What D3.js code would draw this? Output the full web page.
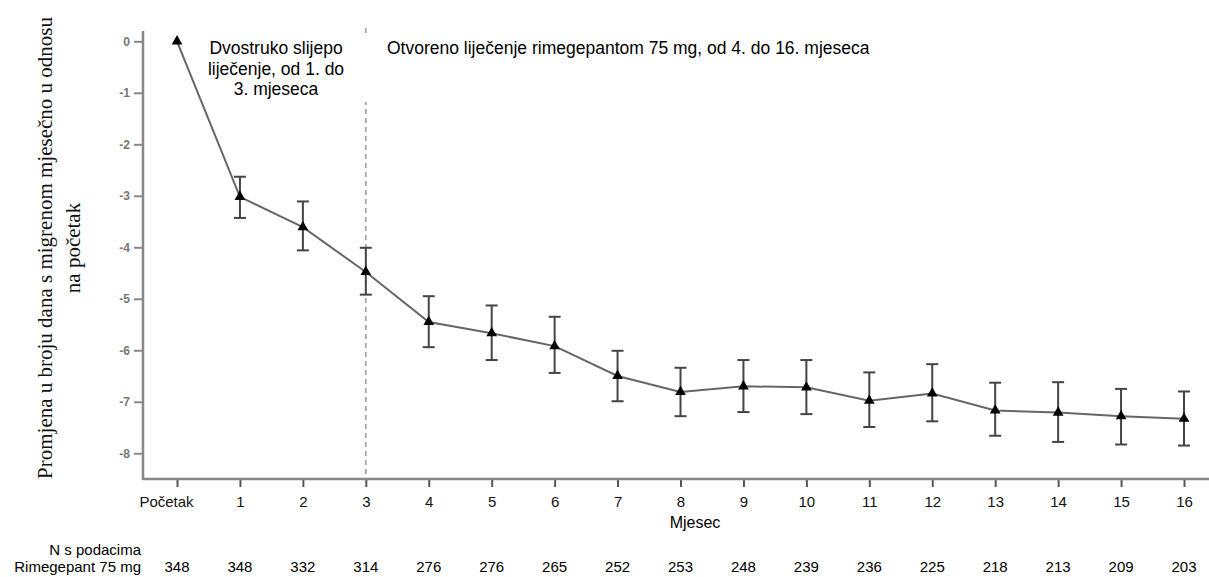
<!DOCTYPE html>
<html>
<head>
<meta charset="utf-8">
<script src="https://cdn.jsdelivr.net/npm/d3@7"></script>
<style>
  body { margin: 0; background: #fff; }
  svg { display: block; font-family: "Liberation Sans", Arial, sans-serif; }
</style>
</head>
<body>
<div id="chart"></div>
<script>
// x categories (Početak = baseline, then months)
const months = ['Početak', '1', '2', '3', '4', '5', '6', '7', '8', '9', '10', '11', '12', '13', '14', '15', '16'];
// mean change from baseline in monthly migraine days
const meanChange = [0, -3.02, -3.61, -4.48, -5.45, -5.67, -5.92, -6.5, -6.81, -6.7, -6.72, -6.98, -6.84, -7.17, -7.21, -7.28, -7.33];
const errUpper = [null, -2.63, -3.11, -4.01, -4.95, -5.13, -5.35, -6.01, -6.34, -6.19, -6.19, -6.43, -6.27, -6.63, -6.62, -6.75, -6.8];
const errLower = [null, -3.43, -4.06, -4.92, -5.94, -6.19, -6.44, -6.99, -7.28, -7.2, -7.24, -7.49, -7.38, -7.66, -7.78, -7.83, -7.85];
// N with data
const nWithData = [348, 348, 332, 314, 276, 276, 265, 252, 253, 248, 239, 236, 225, 218, 213, 209, 203];
const yTicks = [0, -1, -2, -3, -4, -5, -6, -7, -8];

const width = 1209, height = 577;
const axisX = 143, axisY = 479;

const svg = d3.select('#chart')
    .append('svg')
    .attr('width', width)
    .attr('height', height);

const x = d3.scalePoint()
    .domain(months)
    .range([177, 1184]);

const y = d3.scaleLinear()
    .domain([0.2, -8.5])
    .range([31, axisY]);

// y axis
const yAxis = svg.append('g')
    .attr('transform', `translate(${axisX},0)`)
    .call(d3.axisLeft(y).tickValues(yTicks).tickSize(9).tickPadding(4).tickFormat(d => String(d)));
yAxis.select('.domain').remove();
yAxis.selectAll('.tick line').attr('stroke', '#888').attr('stroke-width', 2);
yAxis.selectAll('.tick text')
    .attr('fill', '#777')
    .style('font-size', '12px')
    .style('font-weight', 'bold')
    .style('font-family', '"Liberation Sans", Arial, sans-serif');
svg.append('line')
    .attr('x1', axisX).attr('x2', axisX)
    .attr('y1', 31).attr('y2', axisY + 1)
    .attr('stroke', '#888').attr('stroke-width', 2.5);

// x axis
const xAxis = svg.append('g')
    .attr('transform', `translate(0,${axisY})`)
    .call(d3.axisBottom(x).tickSize(8).tickPadding(9));
xAxis.select('.domain').remove();
xAxis.selectAll('.tick line').attr('stroke', '#555').attr('stroke-width', 2);
xAxis.selectAll('.tick text')
    .attr('fill', '#111')
    .attr('dx', d => d === 'Početak' ? -11 : 0)
    .style('font-size', '15px')
    .style('font-family', '"Liberation Sans", Arial, sans-serif');
svg.append('line')
    .attr('x1', axisX).attr('x2', width)
    .attr('y1', axisY).attr('y2', axisY)
    .attr('stroke', '#888').attr('stroke-width', 2.5);

svg.append('text')
    .attr('x', 695).attr('y', 528)
    .attr('text-anchor', 'middle')
    .style('font-size', '16px')
    .text('Mjesec');

// y label (serif, rotated)
const yLab = svg.append('text')
    .attr('transform', 'translate(52,248) rotate(-90)')
    .attr('text-anchor', 'middle')
    .style('font-family', '"Liberation Serif", "Times New Roman", serif')
    .style('font-size', '21px')
    .attr('fill', '#111');
yLab.append('tspan').attr('x', 0).attr('y', 0).text('Promjena u broju dana s migrenom mjesečno u odnosu');
yLab.append('tspan').attr('x', 0).attr('y', 27.5).text('na početak');

// dashed separator at month 3
svg.append('line')
    .attr('x1', x('3')).attr('x2', x('3'))
    .attr('y1', 28).attr('y2', axisY)
    .attr('stroke', '#999')
    .attr('stroke-width', 1.5)
    .attr('stroke-dasharray', '5,4');

const pts = months.map((m, i) => ({ m: m, v: meanChange[i], hi: errUpper[i], lo: errLower[i] }));

// connecting line
svg.append('path')
    .datum(pts)
    .attr('fill', 'none')
    .attr('stroke', '#666')
    .attr('stroke-width', 2)
    .attr('d', d3.line().x(d => x(d.m)).y(d => y(d.v)));

// error bars
const eb = svg.append('g')
    .selectAll('g')
    .data(pts.filter(d => d.hi !== null))
    .enter()
    .append('g')
    .attr('stroke', '#444')
    .attr('stroke-width', 2);
eb.append('line')
    .attr('x1', d => x(d.m)).attr('x2', d => x(d.m))
    .attr('y1', d => y(d.hi)).attr('y2', d => y(d.lo));
eb.append('line')
    .attr('x1', d => x(d.m) - 6).attr('x2', d => x(d.m) + 6)
    .attr('y1', d => y(d.hi)).attr('y2', d => y(d.hi));
eb.append('line')
    .attr('x1', d => x(d.m) - 6).attr('x2', d => x(d.m) + 6)
    .attr('y1', d => y(d.lo)).attr('y2', d => y(d.lo));

// triangle markers
svg.append('g')
    .selectAll('path')
    .data(pts)
    .enter()
    .append('path')
    .attr('d', d3.symbol().type(d3.symbolTriangle).size(50))
    .attr('transform', d => `translate(${x(d.m)},${y(d.v)})`)
    .attr('fill', '#000');

// overlay boxes with the translated panel labels
svg.append('rect')
    .attr('x', 204).attr('y', 35).attr('width', 166).attr('height', 67)
    .attr('fill', '#fff');
svg.append('rect')
    .attr('x', 386).attr('y', 35).attr('width', 525).attr('height', 26)
    .attr('fill', '#fff');

const leftNote = svg.append('text')
    .attr('text-anchor', 'middle')
    .style('font-size', '17.5px')
    .attr('fill', '#000');
['Dvostruko slijepo', 'liječenje, od 1. do', '3. mjeseca'].forEach((t, i) => {
    leftNote.append('tspan').attr('x', 276).attr('y', 54 + i * 20.5).text(t);
});

svg.append('text')
    .attr('x', 387).attr('y', 54)
    .style('font-size', '17.5px')
    .attr('fill', '#000')
    .text('Otvoreno liječenje rimegepantom 75 mg, od 4. do 16. mjeseca');

// N table
svg.append('text')
    .attr('x', 141).attr('y', 555)
    .attr('text-anchor', 'end')
    .style('font-size', '15px')
    .text('N s podacima');
svg.append('text')
    .attr('x', 141).attr('y', 572)
    .attr('text-anchor', 'end')
    .style('font-size', '15px')
    .text('Rimegepant 75 mg');

svg.append('g')
    .selectAll('text')
    .data(nWithData)
    .enter()
    .append('text')
    .attr('x', (d, i) => x(months[i]))
    .attr('y', 572)
    .attr('text-anchor', 'middle')
    .style('font-size', '15px')
    .text(d => d);
</script>
</body>
</html>
